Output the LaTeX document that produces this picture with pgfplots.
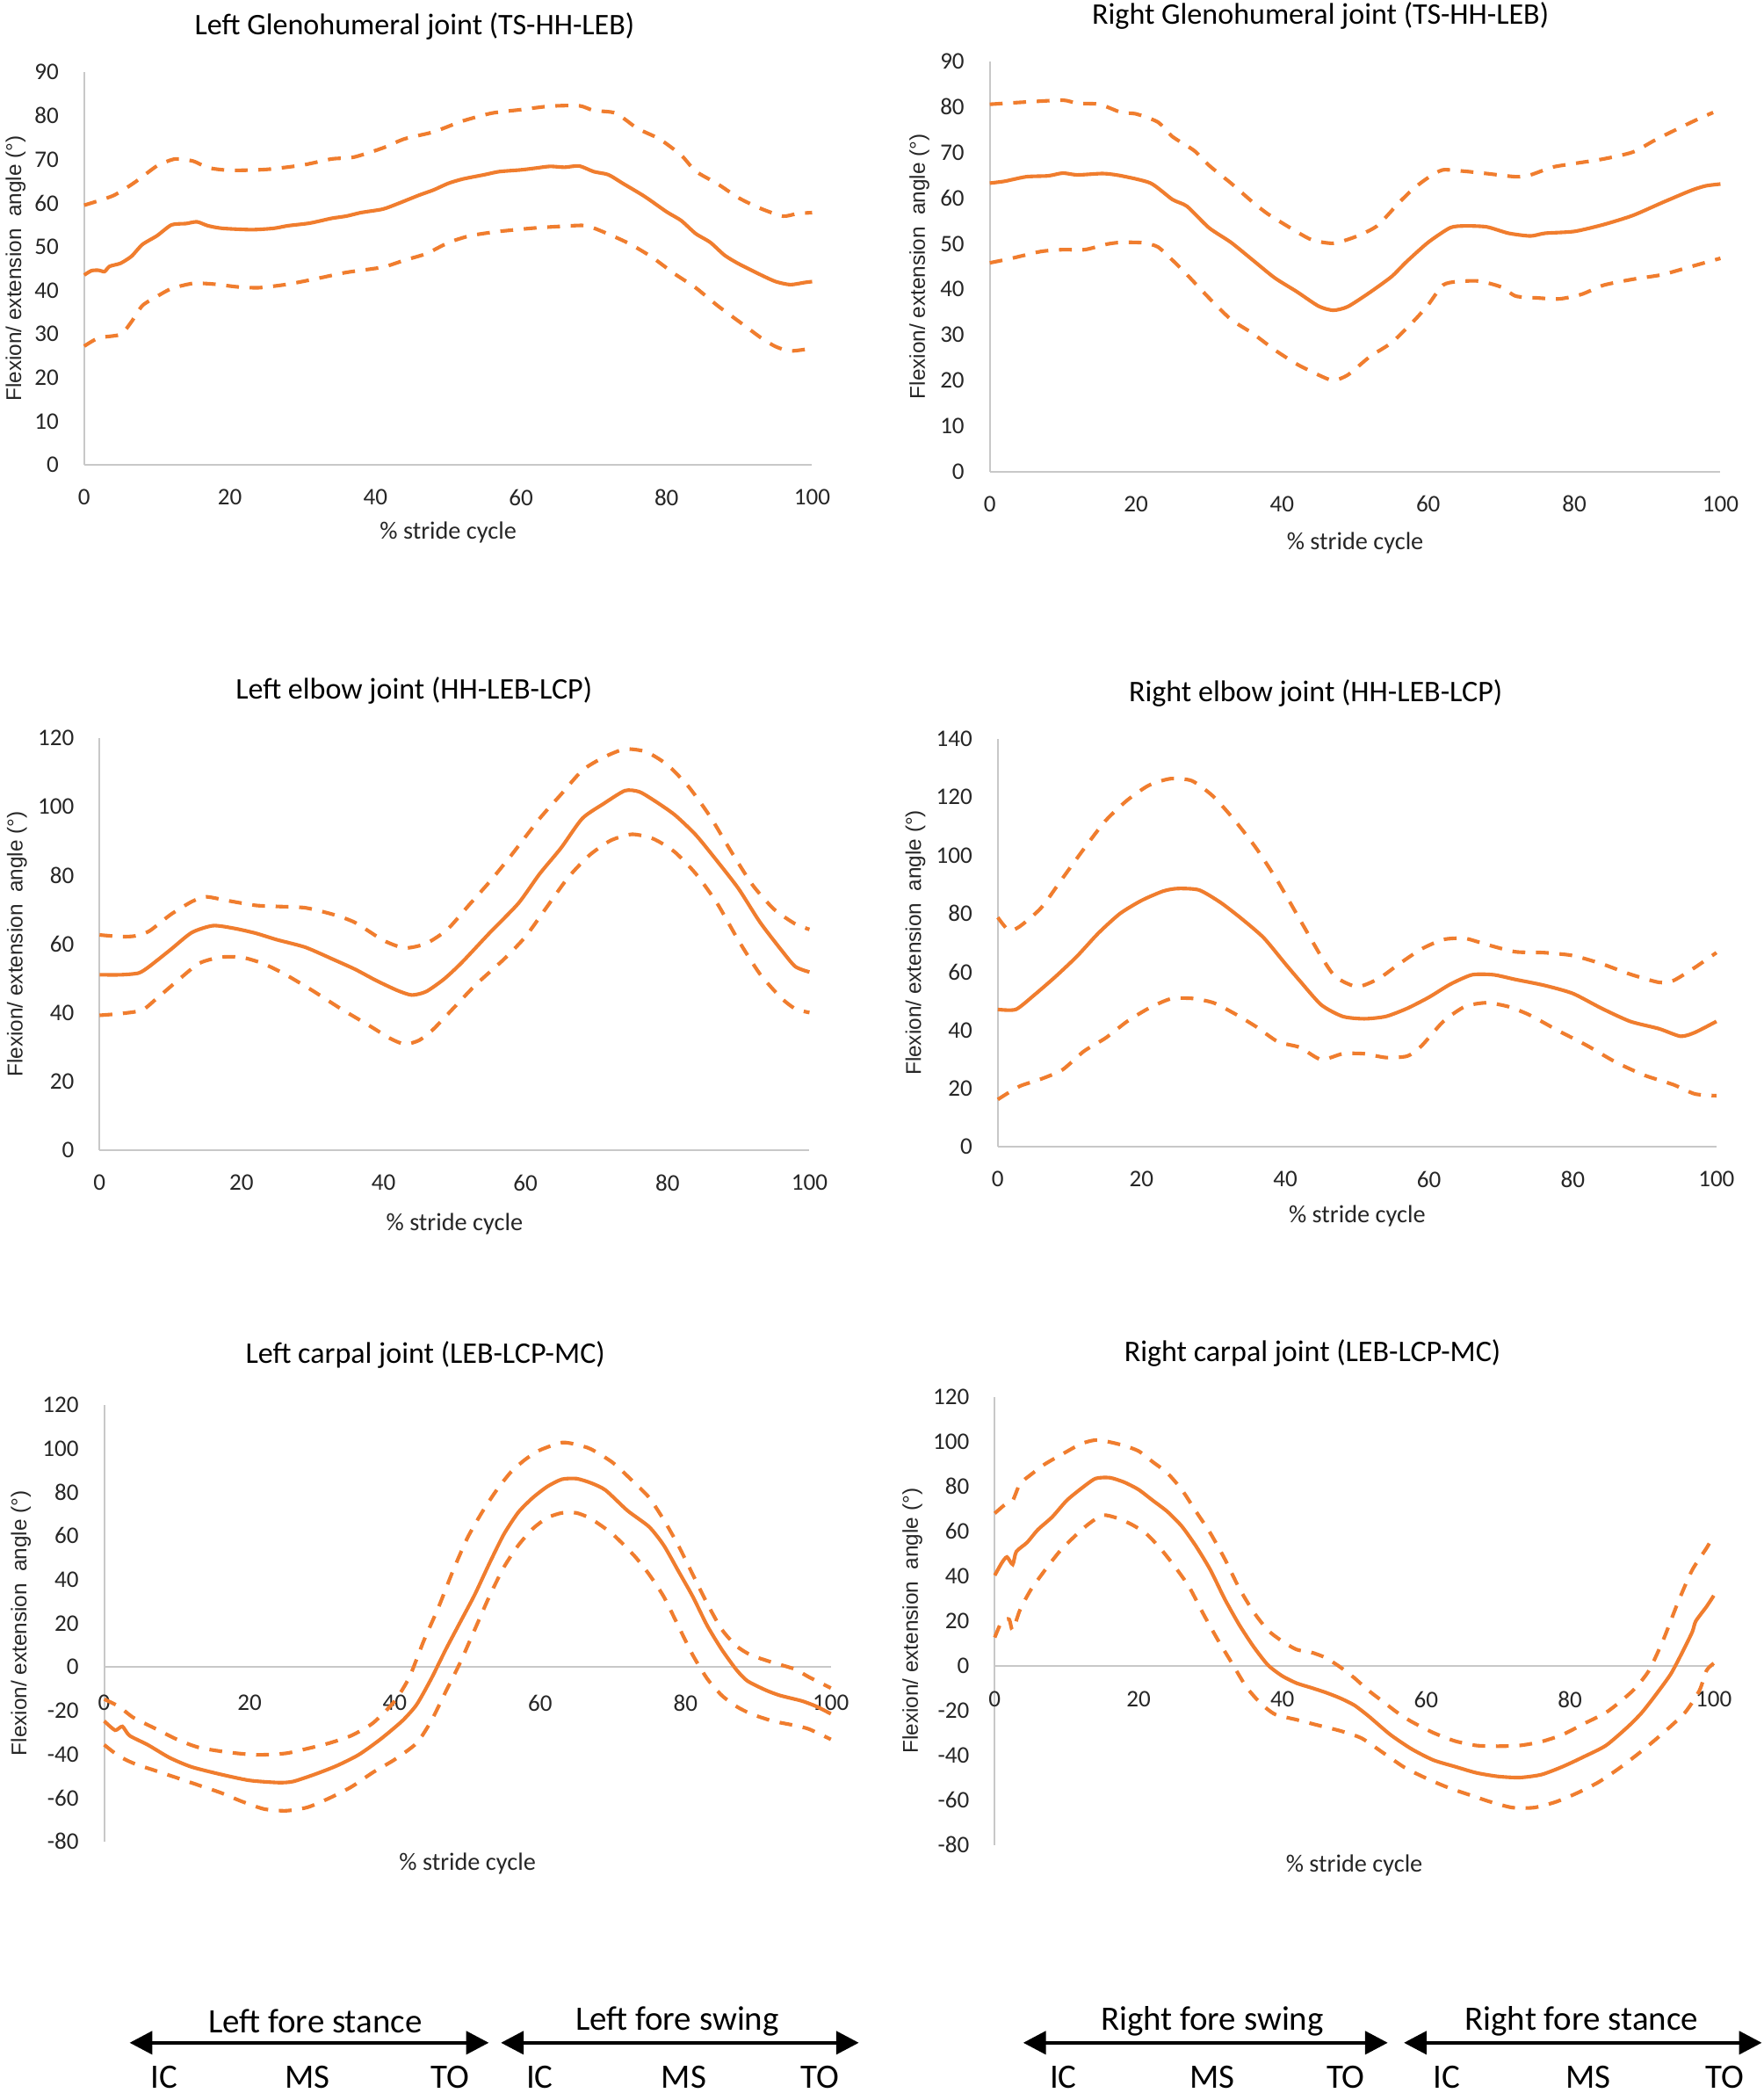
\documentclass[border=0pt]{standalone}
\usepackage{fontspec}
\setmainfont{Carlito}
\newfontfamily\ylabfont{Liberation Sans}
\usepackage{pgfplots}
\pgfplotsset{compat=1.18}
\usetikzlibrary{arrows.meta}
\definecolor{exor}{HTML}{F07D2E}
\definecolor{axgray}{HTML}{C8C8C8}
\definecolor{txt}{HTML}{262626}
\pgfplotsset{
  base/.style={
    scale only axis, xmin=0, xmax=100, xtick={0,20,...,100},
    axis line style={draw=axgray, line width=0.7pt},
    major tick length=0pt, tick style={draw=none},
    tick label style={font=\fontsize{8.9}{10}\selectfont, text=txt},
    yticklabel style={xshift=-6pt},
    /pgf/number format/assume math mode=true,
    hide obscured x ticks=false, hide obscured y ticks=false,
    xlabel={\% stride cycle},
    xlabel style={font=\fontsize{9.3}{11}\selectfont, text=txt, anchor=center},
    ylabel={Flexion/ extension~ angle (°)},
    ylabel style={font=\ylabfont\fontsize{8}{10}\selectfont, text=txt, anchor=center},
    title style={font=\fontsize{11.2}{13}\selectfont, text=black, anchor=center, yshift=-6pt},
    clip=false,
  },
  box/.style={base, axis x line*=bottom, axis y line*=left, xticklabel style={yshift=-5.6pt}},
  mid/.style={base, axis x line*=middle, axis y line*=left},
  mean/.style={exor, line width=1.35pt, smooth, tension=0.4, no markers},
  sd/.style={exor, line width=1.35pt, dash pattern=on 4.8pt off 4pt, smooth, tension=0.4, no markers},
}
\begin{document}
\begin{tikzpicture}
\useasboundingbox (0,0) rectangle (660pt,783.3pt);
% ---------- Panel 1: Left Glenohumeral
\begin{axis}[box, at={(31.5pt,609.3pt)}, anchor=south west, width=272.5pt, height=147pt,
  ymin=0, ymax=90, ytick={0,10,...,90},
  title={Left Glenohumeral joint (TS-HH-LEB)}, title style={at={(axis description cs:0.454,1.1156)}},
  xlabel style={at={(axis description cs:0.5,-0.1714)}},
  ylabel style={at={(axis description cs:-0.094,0.5)}}]
\addplot[mean] coordinates {(0,43.5)(1,44.5)(2,44.6)(2.8,44.3)(3.5,45.5)(5,46.2)(6.5,47.8)(8,50.5)(10,52.5)(12,55)(14,55.3)(15.5,55.7)(17,54.8)(19,54.2)(23,53.9)(26,54.2)(28,54.8)(31,55.4)(34,56.5)(36,57)(38,57.8)(41,58.6)(43,59.8)(46,61.8)(48,63)(50,64.5)(52,65.5)(55,66.5)(57,67.2)(60,67.6)(62,68)(64,68.4)(66,68.2)(68,68.5)(70,67.2)(72,66.5)(74,64.5)(77,61.5)(80,58)(82,56)(84,53)(86,51)(88,48)(90,46)(93,43.5)(95,42)(97,41.3)(99,41.8)(100,42)};
\addplot[sd] coordinates {(0,59.5)(4,61.7)(7,64.8)(10,68.5)(12.5,70.1)(15,69.6)(17,68.1)(20,67.5)(25,67.7)(30,68.7)(34,70.1)(37,70.5)(41,72.6)(44,74.7)(48,76.3)(52,78.8)(56,80.6)(60,81.4)(64,82.2)(68,82.3)(70,81.2)(73,80.6)(76,77.1)(79,74.7)(82,71)(84,67.3)(87,64.4)(90,61.1)(93,58.7)(96,57)(98,57.6)(100,57.8)};
\addplot[sd] coordinates {(0,27.2)(2,29.1)(5,29.9)(6.5,32.8)(8,36.5)(10,38.6)(12,40.4)(15,41.6)(18,41.4)(21,40.8)(24,40.6)(28,41.4)(32,42.7)(36,44.1)(41,45.3)(44,46.9)(47,48.4)(50,50.9)(53,52.5)(57,53.5)(62,54.3)(66,54.7)(69,54.8)(72,52.9)(75,50.6)(78,47.6)(81,43.9)(84,40.6)(87,36.5)(90,32.8)(93,29.1)(95,27.1)(97,26.1)(100,26.7)};
\end{axis}
% ---------- Panel 2: Right Glenohumeral
\begin{axis}[box, at={(370.5pt,606.8pt)}, anchor=south west, width=273.5pt, height=153.5pt,
  ymin=0, ymax=90, ytick={0,10,...,90},
  title={Right Glenohumeral joint (TS-HH-LEB)}, title style={at={(axis description cs:0.4527,1.111)}},
  xlabel style={at={(axis description cs:0.5,-0.174)}},
  ylabel style={at={(axis description cs:-0.0963,0.5)}}]
\addplot[mean] coordinates {(0,63.3)(2,63.7)(5,64.7)(8,64.9)(10,65.5)(12,65.1)(15.5,65.4)(18,64.9)(22,63.3)(25,59.7)(27,58.2)(30,53.5)(33,50.3)(36,46.4)(39,42.5)(42,39.5)(45,36.3)(47,35.4)(49,36.2)(52,39.3)(55,42.8)(57,46)(60,50.3)(63,53.5)(65,53.9)(68,53.7)(71,52.3)(74,51.7)(76,52.3)(80,52.7)(84,54.2)(88,56.2)(92,59)(96,61.7)(98,62.7)(100,63.1)};
\addplot[sd] coordinates {(0,80.6)(5,81.1)(10,81.5)(12,80.8)(15,80.6)(18,78.8)(20,78.5)(23,76.7)(25,73.5)(28,70.4)(30,67.2)(33,63.3)(36,59.1)(38,56.6)(41,53.6)(44,50.9)(47,50.1)(50,51.5)(53,53.9)(56,59)(58,62.1)(60,64.5)(62,66.2)(65,65.9)(68,65.4)(72,64.7)(74,65.1)(77,66.8)(80,67.6)(84,68.6)(88,70.1)(91,72.7)(94,75.1)(97,77.4)(99,78.8)};
\addplot[sd] coordinates {(0,45.8)(3,46.8)(7,48.3)(10,48.7)(13,48.7)(16,49.9)(18,50.3)(21,50.2)(23,49.3)(25,46.4)(27,43.2)(30,38.1)(33,33.4)(36,30.3)(39,26.7)(42,23.6)(45,21.2)(47,20)(49,21.2)(52,25.2)(55,28.3)(58,33)(60,36.6)(62,40.9)(64,41.7)(67,41.8)(70,40.5)(72,38.5)(75,38.1)(78,37.9)(81,38.9)(84,40.9)(88,42.2)(92,43.2)(96,45)(100,46.8)};
\end{axis}
% ---------- Panel 3: Left elbow
\begin{axis}[box, at={(37.25pt,352.8pt)}, anchor=south west, width=265.75pt, height=154.25pt,
  ymin=0, ymax=120, ytick={0,20,...,120},
  title={Left elbow joint (HH-LEB-LCP)}, title style={at={(axis description cs:0.443,1.115)}},
  xlabel style={at={(axis description cs:0.5,-0.178)}},
  ylabel style={at={(axis description cs:-0.1163,0.5)}}]
\addplot[mean] coordinates {(0,51.1)(3,51.1)(5.5,51.6)(7,53.5)(10,58.4)(13,63.4)(16,65.4)(19,64.6)(22,63.2)(25,61.3)(29,59.1)(33,55.5)(36,52.7)(39,49.4)(42,46.5)(44,45.2)(46,46.2)(48.5,49.8)(51,54.6)(55,63.4)(59,71.9)(62,80.5)(65,88)(68,96.6)(71,100.9)(74,104.7)(76,104.4)(78,102)(81,97.7)(84,91.8)(87,84.2)(90,76.2)(93,66.5)(96,58.4)(98,53.5)(100,51.9)};
\addplot[sd] coordinates {(0,62.7)(3,62.2)(5,62.4)(7,63.8)(10,68.6)(13,72.4)(15,73.8)(18,72.7)(22,71.3)(25,71)(29,70.6)(33,68.6)(36,66.3)(40,61.1)(43,58.9)(46,60.2)(49,64.3)(52,71.3)(55,78.3)(58,85.9)(62,96.6)(65,103.6)(68,110.6)(71,114.4)(74,116.8)(77,116)(80,112.2)(83,105.8)(86,97.2)(89,86.9)(92,77.2)(95,70.2)(98,65.9)(100,64.3)};
\addplot[sd] coordinates {(0,39.3)(3,39.8)(6,40.8)(8,44.1)(11,49.4)(14,54.4)(17,56.2)(20,56.2)(23,54.4)(26,51.4)(30,46.5)(34,41.2)(38,36.3)(41,32.5)(43,30.9)(45,32)(47,35.2)(50,41.7)(53,48.2)(57,55.7)(60,62.2)(63,70.8)(66,79.4)(69,85.9)(72,90.2)(75,92)(78,90.7)(81,86.9)(84,80.5)(87,71.9)(90,61.1)(93,51.4)(96,44.4)(98,41.2)(100,40.1)};
\end{axis}
% ---------- Panel 4: Right elbow
\begin{axis}[box, at={(373.5pt,354.15pt)}, anchor=south west, width=269pt, height=152.65pt,
  ymin=0, ymax=140, ytick={0,20,...,140},
  title={Right elbow joint (HH-LEB-LCP)}, title style={at={(axis description cs:0.4424,1.111)}},
  xlabel style={at={(axis description cs:0.5,-0.171)}},
  ylabel style={at={(axis description cs:-0.1147,0.5)}}]
\addplot[mean] coordinates {(0,47.1)(2.5,47.1)(5,51.9)(8,58.3)(11,65.3)(14,73.3)(17,80)(20,84.5)(23,87.7)(25,88.6)(28,88.1)(31,83.8)(34,78.1)(37,71.7)(40,62.8)(42,57)(45,48.7)(48,44.7)(51,43.9)(54,44.7)(57,47.5)(60,51.3)(63,55.8)(66,59)(69,59)(72,57.4)(76,55.4)(80,52.6)(84,47.5)(88,43)(92,40.5)(95,37.9)(97,39.2)(100,43)};
\addplot[sd] coordinates {(0,78.7)(1.5,74.3)(3,75.5)(6,81.9)(9,92.1)(12,102.3)(15,111.9)(18,118.9)(21,124)(24,126.3)(27,125.6)(30,120.2)(33,111.9)(36,102.3)(39,90.9)(42,78.1)(45,65.3)(47,58.3)(50,54.9)(53,57.7)(56,63)(59,67.9)(62,71.1)(65,71.5)(68,69.4)(72,66.9)(76,66.6)(80,65.6)(84,62.8)(88,59.2)(92,56.4)(94,57)(97,61.5)(100,66.6)};
\addplot[sd] coordinates {(0,16.2)(3,20.7)(6,23.2)(9,26.4)(12,32.8)(15,37.3)(18,43)(21,47.5)(24,50.7)(27,50.9)(30,49.4)(33,45.6)(36,41.1)(39,36)(42,34.1)(45,29.9)(48,31.9)(51,31.9)(54,30.6)(57,31.1)(59,34.7)(62,43)(65,48.1)(68,49.4)(71,48.1)(74,45.2)(78,39.8)(82,34.7)(86,29)(90,24.5)(94,21.3)(97,18.1)(100,17.5)};
\end{axis}
% ---------- Panel 5: Left carpal
\begin{axis}[mid, at={(39pt,94.1pt)}, anchor=south west, width=272pt, height=163.45pt,
  ymin=-80, ymax=120, ytick={-80,-60,...,120},
  xticklabel style={yshift=-6.9pt},
  title={Left carpal joint (LEB-LCP-MC)}, title style={at={(axis description cs:0.442,1.115)}},
  xlabel style={at={(axis description cs:0.5,-0.050)}},
  ylabel style={at={(axis description cs:-0.1147,0.5)}}]
\addplot[mean] coordinates {(0,-24.8)(1.5,-29)(2.5,-27.3)(3.5,-31.5)(6,-35.7)(9,-41.6)(12,-45.8)(16,-49.2)(20,-52)(24,-53)(26,-52.5)(29,-49.2)(32,-45.3)(35,-40.3)(38,-33.2)(41,-24.8)(43,-17.3)(45,-5.5)(47,7.9)(49,20.5)(51,33.1)(53,47.3)(55,60.7)(57,70.8)(59,77.5)(61,82.6)(63,85.9)(65,86.2)(67,84.2)(69,80.9)(72,71.6)(75,64.1)(77,55.7)(79,44)(81,32.2)(83,18.8)(85,7.9)(87,-1.3)(88.5,-6.4)(91,-10.6)(93,-13.1)(96,-15.6)(98,-18.1)(100,-21.5)};
\addplot[sd] coordinates {(0,-14.8)(2,-18.1)(4,-23.2)(7,-28.2)(10,-33.2)(13,-36.9)(17,-39.1)(21,-40.3)(25,-39.6)(28,-37.4)(31,-34.9)(34,-31.5)(37,-25.7)(40,-15.6)(42,-4.7)(44,12.1)(46,27.2)(48,44)(50,59.1)(52,70.8)(54,80.9)(56,89.3)(58,95.1)(60,99.3)(63,102.7)(65,101.8)(67,99.7)(70,93.5)(73,84.2)(75,77.5)(77,67.4)(79,55.7)(81,42.3)(83,28.9)(85,17.1)(87,9.6)(89,5.4)(92,2)(95,-1)(97,-4.7)(100,-9.7)};
\addplot[sd] coordinates {(0,-35.7)(2,-40.8)(4,-44.1)(7,-47.5)(10,-50.8)(13,-54.2)(16,-57.6)(19,-61.7)(22,-65.1)(25,-65.9)(28,-64.3)(31,-60.1)(34,-55)(37,-48.3)(40,-42.4)(43,-34.9)(45,-24.8)(47,-11.4)(49,2)(51,17.1)(53,32.2)(55,45.6)(57,55.7)(59,63.3)(61,68.3)(63,70.5)(65,70.5)(67,67.8)(70,60.7)(73,50.7)(75,42.3)(77,32.2)(79,18.8)(81,5.4)(83,-5.5)(85,-13.1)(87,-18.1)(89,-21.5)(92,-24.8)(95,-26.8)(97,-28.5)(100,-33.2)};
\end{axis}
% ---------- Panel 6: Right carpal
\begin{axis}[mid, at={(372.35pt,92.8pt)}, anchor=south west, width=269.15pt, height=167.75pt,
  ymin=-80, ymax=120, ytick={-80,-60,...,120},
  xticklabel style={yshift=-6.1pt},
  title={Right carpal joint (LEB-LCP-MC)}, title style={at={(axis description cs:0.442,1.098)}},
  xlabel style={at={(axis description cs:0.5,-0.0453)}},
  ylabel style={at={(axis description cs:-0.1144,0.5)}}]
\addplot[mean] coordinates {(0,40.3)(1,46)(1.7,48.5)(2.5,45.2)(3,50.9)(4.5,55)(6,60.7)(8,66.4)(10,73.7)(12,79)(14,83.5)(16,83.9)(18,81.9)(20,78.6)(22,73.7)(24,68.8)(26,62.3)(28,53.3)(30,42.7)(32,29.7)(34,18.3)(36,8.5)(38,0.3)(40,-4.6)(42,-7.8)(44,-9.8)(46,-11.9)(48,-14.4)(50,-17.6)(52,-22.5)(55,-30.7)(58,-37.2)(61,-42.1)(64,-45)(67,-47.8)(70,-49.4)(73,-49.9)(76,-48.6)(79,-45)(82,-40.5)(85,-35.6)(88,-27.4)(90,-20.9)(92,-12.7)(94,-3.8)(95.5,5.2)(97,15)(97.5,19.9)(99,26.4)(100,31.3)};
\addplot[sd] coordinates {(0,68)(1.5,72.1)(2.5,73.7)(3.5,81.1)(5,85.2)(7,90)(9.5,94.6)(12,99)(14,100.7)(16,99.8)(18,98.2)(20,95.8)(22,90.9)(24,86)(26,78.6)(28,68.8)(30,59.1)(32,47.6)(34,34.6)(36,24)(38,15.8)(40,10.9)(42,7.2)(44,6)(46,3.6)(48,-0.5)(50,-5.4)(52,-11.1)(54,-16)(56,-20.9)(58,-25)(61,-29.9)(64,-33.6)(67,-35.6)(70,-35.9)(73,-35.6)(76,-33.9)(79,-30.7)(82,-25.8)(85,-20.9)(87,-16)(89,-10.3)(91,-2.1)(93,11.7)(95,28.1)(97,42.7)(99,52.5)(100,58.2)};
\addplot[sd] coordinates {(0,12.6)(1,19.9)(2,20.7)(2.5,15.8)(3.5,24.8)(5,33.8)(7,42.7)(9,50.9)(11,57.4)(13,63.1)(15,67.2)(17,65.9)(19,63.1)(21,59.1)(23,52.5)(25,44.4)(27,35.4)(29,23.2)(31,11.7)(33,1.1)(35,-9.5)(37,-16.8)(39,-21.7)(42,-24.1)(45,-26.6)(48,-29)(51,-32.3)(54,-38.8)(57,-45.4)(60,-50.2)(63,-54.3)(66,-57.6)(69,-60.8)(72,-63.3)(75,-63.3)(78,-60.8)(81,-56.8)(84,-51.9)(87,-45.4)(90,-38)(93,-29.9)(96,-20.9)(98,-11.1)(99,-2.1)(100,1.1)};
\end{axis}
% ---------- Phase annotations
\begin{scope}[line width=1.5pt, {Triangle[width=8.5pt,length=8.5pt]}-{Triangle[width=8.5pt,length=8.5pt]}]
\draw (48.5pt,18.8pt) -- (183pt,18.8pt);
\draw (187.5pt,18.8pt) -- (321.5pt,18.8pt);
\draw (383pt,18.8pt) -- (519.5pt,18.8pt);
\draw (525.5pt,18.8pt) -- (659.5pt,18.8pt);
\end{scope}
\begin{scope}[every node/.style={font=\fontsize{12.8}{14}\selectfont, text=black, inner sep=0pt}]
\node at (118pt,26.8pt) {Left fore stance};
\node at (253.5pt,26.8pt) {Left fore swing};
\node at (453.75pt,26.8pt) {Right fore swing};
\node at (592pt,26.8pt) {Right fore stance};
\foreach \x/\t in {61.5/IC,115/MS,168.5/TO,202/IC,256/MS,307/TO,398/IC,453.75/MS,503.75/TO,541.5/IC,594.5/MS,645.5/TO}
  \node at (\x pt,5.8pt) {\t};
\end{scope}
\end{tikzpicture}
\end{document}
